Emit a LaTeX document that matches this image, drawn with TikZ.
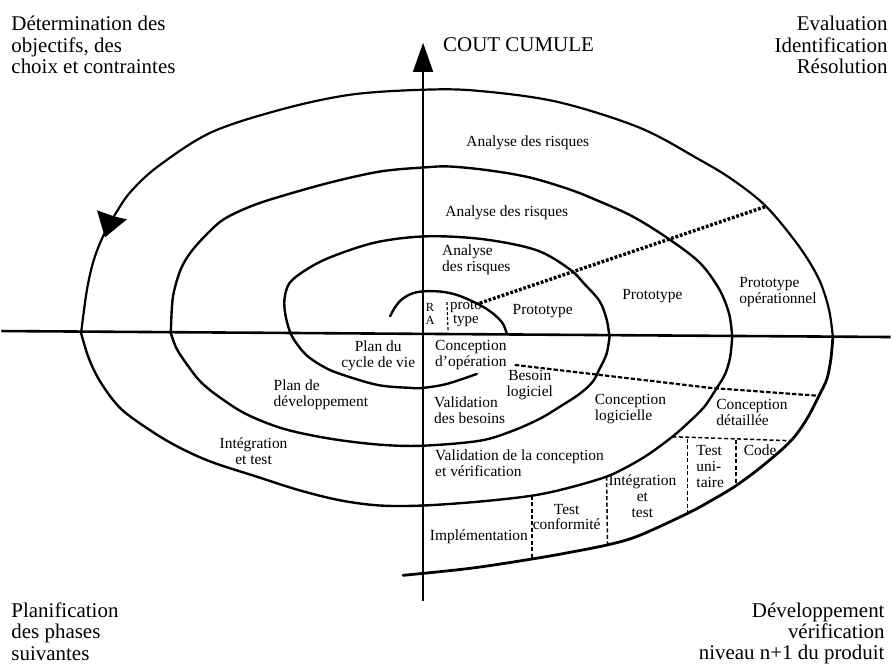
\documentclass[tikz,border=0pt]{standalone}
\usepackage{fontspec}
\setmainfont{Liberation Serif}
\usetikzlibrary{arrows.meta}
\begin{document}
\begin{tikzpicture}[x=1pt,y=-1pt,
  spiral/.style={line width=2.4pt, line cap=round, line join=round},
  axisline/.style={line width=1.4pt},
  lbl/.style={font=\fontsize{15.5}{16}\selectfont, inner sep=0pt, align=center},
  lbll/.style={lbl, align=left},
  corner/.style={font=\fontsize{21}{21.5}\selectfont, inner sep=0pt},
  dotline/.style={line width=3.4pt, dash pattern=on 2.8pt off 1.8pt},
  dashline/.style={line width=2.2pt, dash pattern=on 4.5pt off 2pt},
  boxline/.style={line width=1.5pt, dash pattern=on 4pt off 2.5pt},
]
\fill[white] (0,0) rectangle (892,663);

% axes
\coordinate (vbot) at (423,603);
\coordinate (vtop) at (423,43);
\coordinate (hl) at (0,332);
\coordinate (hr) at (892,338);
\draw[line width=2.6pt] (hl) -- (hr);
\draw[axisline, -{Triangle[length=29pt,width=20pt]}] (vbot) -- (vtop);

% outer upper arc
\draw[spiral, line width=2.2pt] plot[smooth, tension=0.55] coordinates {(80,334) (86,290) (93,260) (103,235) (116,212) (130,192) (157,167) (210,133) (280,110) (350,95) (423,90) (477,91) (557,102) (640,128) (700,160) (733,180) (767,207) (800,247) (820,280) (830,310) (834,338)};
% arrow on outer arc
\fill (104,238) -- (96,211) -- (113,217) -- (126,220) -- cycle;

% third upper arc
\draw[spiral] plot[smooth, tension=0.55] coordinates {(170,334) (171,310) (173,293) (180,270) (190,253) (205,236) (223,220) (250,207) (280,197) (330,183) (380,172) (423,168) (450,167) (490,171) (530,178) (570,190) (600,202) (633,217) (667,238) (700,263) (720,290) (730,315) (733,338)};

% second upper arc + first lower arc
\draw[spiral] plot[smooth, tension=0.55] coordinates {(477,375) (447,385) (423,389) (410,389) (377,386) (337,374) (320,366) (307,357) (298,347) (290,334) (285,316) (284,300) (289,284) (305,271) (330,258) (376,243) (427,237) (484,240) (537,251) (570,270) (585,285) (600,302) (607,320) (610,338)};

% small inner arc
\draw[spiral] plot[smooth, tension=0.55] coordinates {(390,317) (395,308) (402,300) (413,294) (427,292) (445,293) (463,298) (487,310) (502,323) (507,335)};

% second lower arc
\draw[spiral] plot[smooth, tension=0.55] coordinates {(610,338) (607,355) (600,370) (593,383) (580,395) (560,408) (540,420) (513,432) (480,442) (423,447) (380,446) (330,440) (283,430) (245,415) (217,397) (200,383) (188,368) (176,350) (170,334)};

% third lower arc
\draw[spiral] plot[smooth, tension=0.55] coordinates {(733,338) (731,358) (726,375) (717,390) (705,408) (690,423) (673,438) (650,455) (630,467) (607,478) (570,489) (533,497) (480,503) (423,507) (380,507) (341,502) (300,492) (256,478) (210,463) (177,448) (150,432) (120,410) (100,384) (88,360) (80,334)};

% outer lower arc
\draw[spiral, line width=2.8pt] plot[smooth, tension=0.55] coordinates {(834,338) (832,360) (828,380) (820,397) (808,420) (792,442) (765,466) (737,487) (712,502) (688,515) (640,537) (610,546) (570,554) (530,561) (470,570) (403,577)};

% dotted and dashed separators
\coordinate (dt1) at (480,304);
\coordinate (dt2) at (767,207);
\draw[dotline] (dt1) -- (dt2);
\coordinate (ds1) at (515,366);
\coordinate (ds2) at (711,389);
\coordinate (ds3) at (820,397);
\draw[dashline] (ds1) -- (ds2) -- (ds3);
\coordinate (ra1) at (447,303);
\coordinate (ra2) at (448,331);
\draw[boxline, line width=1.2pt, dash pattern=on 3pt off 2pt] (ra1) -- (ra2);

\coordinate (bt1) at (673,438);
\coordinate (bt2) at (792,442);
\draw[boxline] (bt1) -- (bt2);
\coordinate (b1a) at (688,440); \coordinate (b1b) at (688,515);
\coordinate (b2a) at (737,441); \coordinate (b2b) at (737,487);
\coordinate (b3a) at (607,478); \coordinate (b3b) at (608,546);
\coordinate (b4a) at (532,497); \coordinate (b4b) at (532,561);
\draw[boxline] (b1a) -- (b1b);
\draw[boxline] (b2a) -- (b2b);
\draw[boxline] (b3a) -- (b3b);
\draw[boxline] (b4a) -- (b4b);

% corner texts
\node[corner, anchor=north west, align=left] (tl) at (10,16) {Détermination des\\objectifs, des\\choix et contraintes};
\node[corner, anchor=north east, align=right] (tr) at (889,16) {Evaluation\\Identification\\Résolution};
\node[corner, anchor=north west, align=left] (bl) at (10,604) {Planification\\des phases\\suivantes};
\node[corner, anchor=north east, align=right] (br) at (886,604) {Développement\\vérification\\niveau n+1 du produit};
\node[corner, anchor=base west] (cout) at (443,52) {COUT CUMULE};

% inner labels
\node[lbl] (ar1) at (528,143) {Analyse des risques};
\node[lbl] (ar2) at (507,213) {Analyse des risques};
\node[lbll, anchor=west] (ar3) at (442,260.5) {Analyse\\des risques};
\node[lbl, font=\fontsize{12.5}{13.5}\selectfont] (ra) at (430,315) {R\\A};
\node[lbl, font=\fontsize{15}{14}\selectfont] (proto) at (466,315) {proto\\type};
\node[lbl] (p1) at (543,312) {Prototype};
\node[lbl] (p2) at (653,297) {Prototype};
\node[lbll, anchor=west] (p3) at (740,292.5) {Prototype\\opérationnel};
\node[lbl] (pcv) at (378,356.5) {Plan du\\cycle de vie};
\node[lbll, anchor=west] (cop) at (435,356.5) {Conception\\d'opération};
\node[lbl] (bl1) at (530,386.5) {Besoin\\logiciel};
\node[lbll, anchor=west] (pdev) at (273,395.5) {Plan de\\développement};
\node[lbll, anchor=west] (vb) at (434,411.5) {Validation\\des besoins};
\node[lbll, anchor=west] (clog) at (595,410.5) {Conception\\logicielle};
\node[lbll, anchor=west] (cdet) at (717,413.5) {Conception\\détaillée};
\node[lbl] (it1) at (253,452.5) {Intégration\\et test};
\node[lbll, anchor=west] (vcv) at (435,464.5) {Validation de la conception\\et vérification};
\node[lbll, anchor=west] (tu) at (697,467.5) {Test\\uni-\\taire};
\node[lbl] (code) at (761,452) {Code};
\node[lbl] (it2) at (643,498) {Intégration\\et\\test};
\node[lbl] (tc) at (567,518.5) {Test\\conformité};
\node[lbl] (impl) at (479,538) {Implémentation};
\end{tikzpicture}
\end{document}
